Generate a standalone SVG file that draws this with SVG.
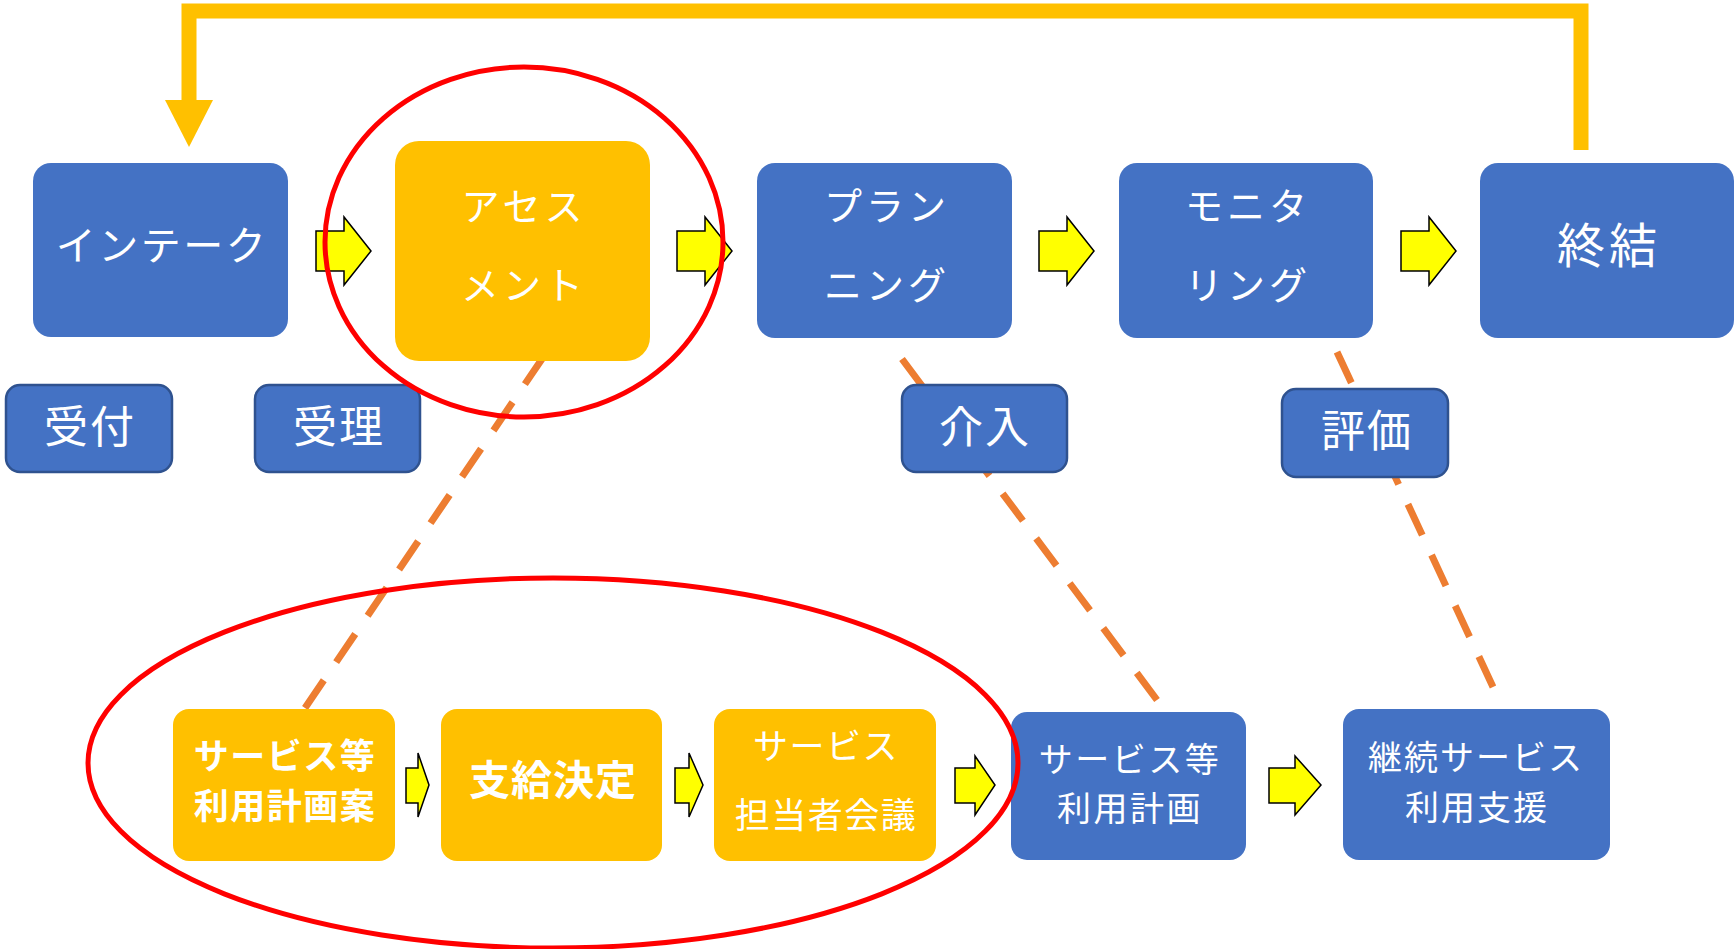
<svg xmlns="http://www.w3.org/2000/svg" width="1736" height="949" viewBox="0 0 1736 949">
<style>
.blue{fill:#4472C4;}
.small{fill:#4472C4;stroke:#2F528F;stroke-width:2.5;}
.orange{fill:#FFC000;}
.t{font-family:"Noto Sans CJK JP","Noto Sans",sans-serif;fill:#FFFFFF;text-anchor:middle;}
.bold{font-weight:bold;}
.arrow{fill:#FFFF00;stroke:#000000;stroke-width:1.5;stroke-linejoin:miter;}
.dash{stroke:#ED7D31;stroke-width:7;stroke-dasharray:34 22;fill:none;}
.ring{fill:none;stroke:#FF0000;stroke-width:5;}
</style>
<defs>
<path id="bigArrow" d="M0,-20 H28 V-34 L55,0 L28,34 V20 H0 Z"/>
</defs>
<g id="connectors">
<line class="dash" x1="544" y1="356" x2="305" y2="708"/>
<line class="dash" x1="902" y1="359" x2="1157" y2="700"/>
<line class="dash" x1="1337" y1="352" x2="1493" y2="687"/>
<polyline points="1581,150 1581,11 189,11 189,100" fill="none" stroke="#FFC000" stroke-width="15"/>
<polygon points="165,100 213,100 189,147" fill="#FFC000"/>
<use href="#bigArrow" class="arrow" x="316" y="251"/>
<use href="#bigArrow" class="arrow" x="677" y="251"/>
<use href="#bigArrow" class="arrow" x="1039" y="251"/>
<use href="#bigArrow" class="arrow" x="1401" y="251"/>
<path class="arrow" d="M406,768 H418 V753 L429,785 L418,817 V803 H406 Z"/>
<path class="arrow" d="M675,768 H689 V753 L703,785 L689,817 V803 H675 Z"/>
<path class="arrow" d="M955,768 H975 V756 L995,785 L975,815 V803 H955 Z"/>
<path class="arrow" d="M1269,768 H1295 V756 L1321,785 L1295,815 V803 H1269 Z"/>
</g>
<g id="intake">
<rect class="blue" x="33" y="163" width="255" height="174" rx="18"/>
<text class="t" x="162" y="260" font-size="40" letter-spacing="2.5">インテーク</text>
</g>
<g id="assessment">
<rect class="orange" x="395" y="141" width="255" height="220" rx="24"/>
<text class="t" x="524" y="220" font-size="38" letter-spacing="4">アセス</text>
<text class="t" x="524" y="299" font-size="38" letter-spacing="4">メント</text>
</g>
<g id="planning">
<rect class="blue" x="757" y="163" width="255" height="175" rx="18"/>
<text class="t" x="887" y="220" font-size="38" letter-spacing="4">プラン</text>
<text class="t" x="887" y="299" font-size="38" letter-spacing="4">ニング</text>
</g>
<g id="monitoring">
<rect class="blue" x="1119" y="163" width="254" height="175" rx="18"/>
<text class="t" x="1248" y="220" font-size="38" letter-spacing="4">モニタ</text>
<text class="t" x="1248" y="299" font-size="38" letter-spacing="4">リング</text>
</g>
<g id="closure">
<rect class="blue" x="1480" y="163" width="254" height="175" rx="18"/>
<text class="t" x="1609" y="263" font-size="48" letter-spacing="4">終結</text>
</g>
<g id="uketsuke">
<rect class="small" x="6" y="385" width="166" height="87" rx="14"/>
<text class="t" x="90" y="443" font-size="44" letter-spacing="2">受付</text>
</g>
<g id="juri">
<rect class="small" x="255" y="385" width="165" height="87" rx="14"/>
<text class="t" x="339" y="443" font-size="44" letter-spacing="2">受理</text>
</g>
<g id="kainyu">
<rect class="small" x="902" y="385" width="165" height="87" rx="14"/>
<text class="t" x="985" y="443" font-size="44" letter-spacing="2">介入</text>
</g>
<g id="hyoka">
<rect class="small" x="1282" y="389" width="166" height="88" rx="14"/>
<text class="t" x="1367" y="447" font-size="44" letter-spacing="2">評価</text>
</g>
<g id="plan-draft">
<rect class="orange" x="173" y="709" width="222" height="152" rx="16"/>
<text class="t bold" x="285" y="769" font-size="35" letter-spacing="1.5">サービス等</text>
<text class="t bold" x="285" y="819" font-size="35" letter-spacing="1.5">利用計画案</text>
</g>
<g id="decision">
<rect class="orange" x="441" y="709" width="221" height="152" rx="16"/>
<text class="t bold" x="553" y="795" font-size="41" letter-spacing="1">支給決定</text>
</g>
<g id="meeting">
<rect class="orange" x="714" y="709" width="222" height="152" rx="16"/>
<text class="t" x="826" y="759" font-size="35" letter-spacing="1.5">サービス</text>
<text class="t" x="826" y="828" font-size="35" letter-spacing="1.5">担当者会議</text>
</g>
<g id="plan">
<rect class="blue" x="1011" y="712" width="235" height="148" rx="16"/>
<text class="t" x="1130" y="772" font-size="34" letter-spacing="2.5">サービス等</text>
<text class="t" x="1130" y="821" font-size="34" letter-spacing="2.5">利用計画</text>
</g>
<g id="continuous">
<rect class="blue" x="1343" y="709" width="267" height="151" rx="16"/>
<text class="t" x="1476" y="770" font-size="34" letter-spacing="2">継続サービス</text>
<text class="t" x="1477" y="820" font-size="34" letter-spacing="2">利用支援</text>
</g>
<g id="highlights">
<ellipse class="ring" cx="524" cy="242" rx="199" ry="175"/>
<ellipse class="ring" cx="553" cy="763" rx="465" ry="185"/>
</g>
</svg>
